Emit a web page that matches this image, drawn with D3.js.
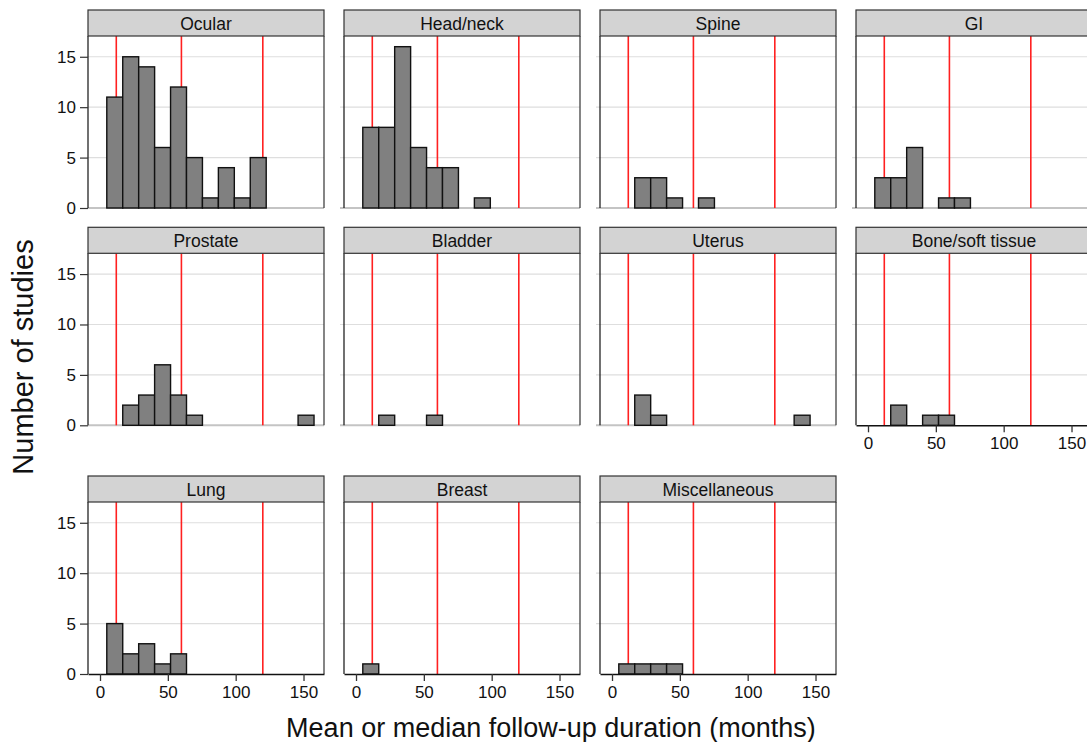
<!DOCTYPE html>
<html><head><meta charset="utf-8">
<script src="https://cdn.jsdelivr.net/npm/d3@7"></script>
<style>body{margin:0;background:#fff}svg{display:block;font-family:"Liberation Sans",Arial,sans-serif}</style>
</head><body>
<svg id="c" width="1087" height="742"></svg>
<script>
const panels = ["Ocular","Head/neck","Spine","GI","Prostate","Bladder","Uterus","Bone/soft tissue","Lung","Breast","Miscellaneous"];
const binEdges = [5,16.75,28.5,40.25,52,63.75,75.5,87.25,99,110.75,122.5,134.25,146,157.75];
const ocular   = [11,15,14,6,12,5,1,4,1,5];
const headNeck = [8,8,16,6,4,4,0,1];
const spine    = [0,3,3,1,0,1];
const gi       = [3,3,6,0,1,1];
const prostate = [0,2,3,6,3,1,0,0,0,0,0,0,1];
const bladder  = [0,1,0,0,1];
const uterus   = [0,3,1,0,0,0,0,0,0,0,0,1];
const boneSoft = [0,2,0,1,1];
const lung     = [5,2,3,1,2];
const breast   = [1];
const misc     = [1,1,1,1];
const counts = [ocular,headNeck,spine,gi,prostate,bladder,uterus,boneSoft,lung,breast,misc];
const xTicks = [0,50,100,150];
const yTicks = [0,5,10,15];
const gridTicks = [5,10,15];
const refLines = [12,60,120];
const xAxisPanels = ["Bone/soft tissue","Lung","Breast","Miscellaneous"];

const svg = d3.select("#c");
const colX = [88,344,600,856];
const rowTop = [10,227.3,476];
const panelW = 236, stripH = 26, plotH = 172;
const x = d3.scaleLinear().domain([-8.85,165.1]).range([0,panelW]);
const y = d3.scaleLinear().domain([0,17.06]).range([plotH,0]);

panels.forEach((name,i)=>{
  const col = i%4, row = Math.floor(i/4);
  const g = svg.append("g").attr("transform",`translate(${colX[col]},${rowTop[row]})`);
  const p = g.append("g").attr("transform",`translate(0,${stripH})`);
  const hasX = xAxisPanels.includes(name);
  // gridlines
  p.selectAll("line.grid").data(gridTicks).join("line")
    .attr("x1", col===0?0:-4).attr("x2",panelW)
    .attr("y1",d=>y(d)).attr("y2",d=>y(d))
    .attr("stroke","#dedede").attr("stroke-width",1.2);
  if(!hasX){
    p.append("line").attr("x1",col===0?0:-4).attr("x2",panelW).attr("y1",y(0)).attr("y2",y(0))
      .attr("stroke","#c4c4c4").attr("stroke-width",2);
  }
  // reference lines
  p.selectAll("line.ref").data(refLines).join("line")
    .attr("x1",d=>x(d)).attr("x2",d=>x(d)).attr("y1",0).attr("y2",y(0))
    .attr("stroke","#ff2020").attr("stroke-width",1.6);
  // bars
  const bars = counts[i].map((c,k)=>({x0:binEdges[k],x1:binEdges[k+1],c})).filter(d=>d.c>0);
  p.selectAll("rect.bar").data(bars).join("rect")
    .attr("x",d=>x(d.x0)).attr("width",d=>x(d.x1)-x(d.x0))
    .attr("y",d=>y(d.c)).attr("height",d=>y(0)-y(d.c))
    .attr("fill","#808080").attr("stroke","#111").attr("stroke-width",1.4);
  // borders
  p.append("line").attr("x1",0).attr("x2",0).attr("y1",0).attr("y2",plotH).attr("stroke","#111").attr("stroke-width",1.2);
  p.append("line").attr("x1",panelW).attr("x2",panelW).attr("y1",0).attr("y2",plotH).attr("stroke","#333").attr("stroke-width",1.2);
  // x axis
  if(hasX){
    const ax = p.append("g").attr("transform",`translate(0,${plotH})`)
      .call(d3.axisBottom(x).tickValues(xTicks).tickSize(7).tickSizeOuter(0).tickPadding(5));
    ax.select(".domain").attr("stroke","#111").attr("stroke-width",1.4);
    ax.selectAll(".tick line").attr("stroke","#333").attr("stroke-width",1.3);
    ax.selectAll("text").attr("font-size","17px").attr("fill","#111").attr("font-family",'"Liberation Sans",Arial,sans-serif');
  }
  // y axis
  if(col===0){
    const ay = p.append("g").call(d3.axisLeft(y).tickValues(yTicks).tickSize(8).tickSizeOuter(0).tickPadding(4));
    ay.select(".domain").remove();
    ay.selectAll(".tick line").attr("stroke","#333").attr("stroke-width",1.2);
    ay.selectAll("text").attr("font-size","17px").attr("fill","#111").attr("font-family",'"Liberation Sans",Arial,sans-serif');
  }
  // strip
  g.append("rect").attr("x",0).attr("y",0).attr("width",panelW).attr("height",stripH)
    .attr("fill","#d3d3d3").attr("stroke","#333").attr("stroke-width",1.2);
  g.append("text").attr("x",panelW/2).attr("y",19.5).attr("text-anchor","middle")
    .attr("font-size","17.5px").attr("fill","#111").text(name);
});

svg.append("text").attr("transform","translate(33,357) rotate(-90)").attr("text-anchor","middle")
  .attr("font-size","29px").attr("fill","#111").text("Number of studies");
svg.append("text").attr("x",551).attr("y",737).attr("text-anchor","middle")
  .attr("font-size","27px").attr("fill","#111").text("Mean or median follow-up duration (months)");
</script>
</body></html>
